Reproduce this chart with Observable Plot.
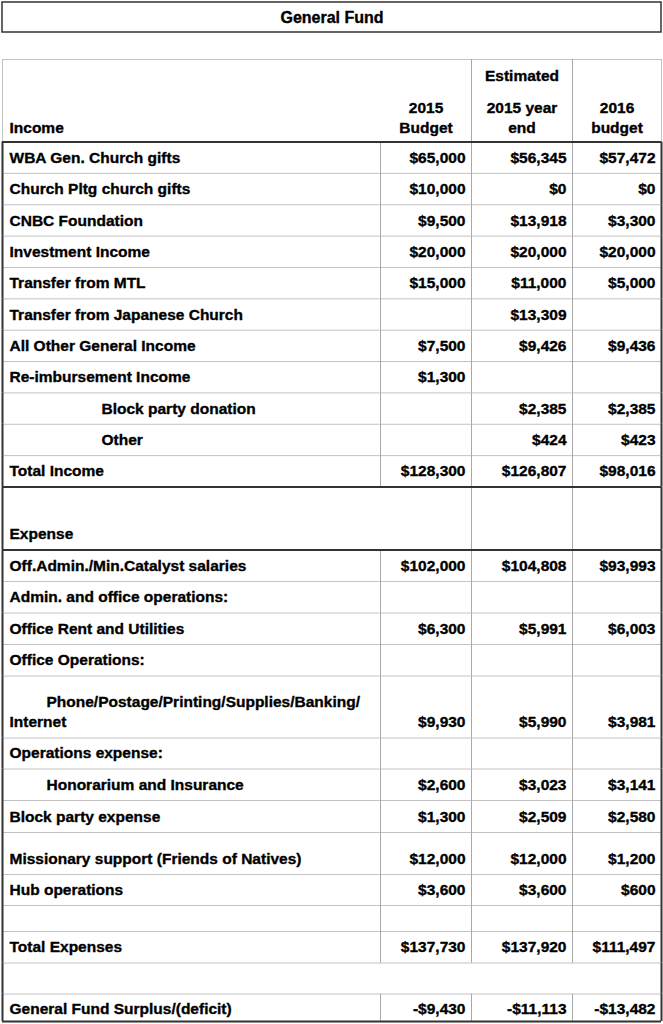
<!DOCTYPE html>
<html>
<head>
<meta charset="utf-8">
<script src="https://cdn.jsdelivr.net/npm/d3@7"></script>
<script src="https://cdn.jsdelivr.net/npm/@observablehq/plot@0.6"></script>
<style>
  html, body { margin: 0; padding: 0; background: #fff; }
  svg { display: block; }
</style>
</head>
<body>
<div id="chart"></div>
<script>
// ---------------- data ----------------
const title = "General Fund";
const sectionTitle = "Income";
const columnHeaders = [["2015", "Budget"], ["Estimated", "2015 year", "end"], ["2016", "budget"]];
const rowLabels = [
  "WBA Gen. Church gifts",
  "Church Pltg church gifts",
  "CNBC Foundation",
  "Investment Income",
  "Transfer from MTL",
  "Transfer from Japanese Church",
  "All Other General Income",
  "Re-imbursement Income",
  "Block party donation",
  "Other",
  "Total Income",
  "Expense",
  "Off.Admin./Min.Catalyst salaries",
  "Admin. and office operations:",
  "Office Rent and Utilities",
  "Office Operations:",
  "Phone/Postage/Printing/Supplies/Banking/\nInternet",
  "Operations expense:",
  "Honorarium and Insurance",
  "Block party expense",
  "Missionary support (Friends of Natives)",
  "Hub operations",
  "",
  "Total Expenses",
  "",
  "General Fund Surplus/(deficit)"
];
const budget2015 = [65000, 10000, 9500, 20000, 15000, null, 7500, 1300, null, null, 128300,
  null, 102000, null, 6300, null, 9930, null, 2600, 1300, 12000, 3600, null, 137730, null, -9430];
const estimate2015 = [56345, 0, 13918, 20000, 11000, 13309, 9426, null, 2385, 424, 126807,
  null, 104808, null, 5991, null, 5990, null, 3023, 2509, 12000, 3600, null, 137920, null, -11113];
const budget2016 = [57472, 0, 3300, 20000, 5000, null, 9436, null, 2385, 423, 98016,
  null, 93993, null, 6003, null, 3981, null, 3141, 2580, 1200, 600, null, 111497, null, -13482];

// ---------------- layout ----------------
const W = 663, H = 1024;
const font = "'Liberation Sans', Arial, Helvetica, sans-serif";
const fs = 15.5;
const titleBox = {x1: 2, x2: 661, y1: 2, y2: 32};
const tableTop = 59, tableLeft = 2, tableRight = 661;
const colEdges = [380, 471, 572, 661];
const n11 = 345 / 11;
const rowHeights = [82.5, n11, n11, n11, n11, n11, n11, n11, n11, n11, n11, n11,
  63, 31.5, 31.5, 31.5, 31.5, 62, 31, 31.5, 32, 42, 31, 26, 31.5, 31, 27.5];
const edges = [tableTop];
rowHeights.forEach(h => edges.push(edges[edges.length - 1] + h));
const indentByRow = {9: 101, 10: 101, 17: 46, 19: 46};
const textFromBottom = {26: 12};
const thickBelow = new Set([0, 11, 12, 26]);
const noFirstColLine = new Set([0, 12, 25]);
const noColLines = new Set([25]);
const headerLineOffsets = [14, 34, 66];
const dark = "#333", lightH = "#c2c2c2", lightV = "#a8a8a8";

// ---------------- derived mark data ----------------
const fmt = d3.format(",");
const money = v => v == null ? "" : (v < 0 ? "-$" + fmt(-v) : "$" + fmt(v));

const texts = [];
texts.push({x: (titleBox.x1 + titleBox.x2) / 2, y: (titleBox.y1 + titleBox.y2) / 2, t: title, a: "middle", s: 16});
const hb = edges[1];
texts.push({x: 9, y: hb - headerLineOffsets[0], t: sectionTitle, a: "start", s: fs});
columnHeaders.forEach((lines, j) => {
  const cx = (colEdges[j] + colEdges[j + 1]) / 2;
  lines.slice().reverse().forEach((ln, k) => texts.push({x: cx, y: hb - headerLineOffsets[k], t: ln, a: "middle", s: fs}));
});
rowLabels.forEach((label, i) => {
  const r = i + 1;
  const bottom = edges[r + 1];
  const yb = bottom - (textFromBottom[r] ?? 15.5);
  const lines = label.split("\n");
  lines.forEach((ln, k) => {
    const x = k === 0 ? (indentByRow[r] ?? 9) : 9;
    texts.push({x, y: yb - (lines.length - 1 - k) * 20, t: ln, a: "start", s: fs});
  });
  [budget2015[i], estimate2015[i], budget2016[i]].forEach((v, j) => {
    if (v != null) texts.push({x: colEdges[j + 1] - 6, y: yb, t: money(v), a: "end", s: fs});
  });
});

const hLines = edges.map((y, i) => {
  const thick = i > 0 && thickBelow.has(i - 1);
  return {y, x1: tableLeft, x2: tableRight, stroke: thick ? dark : lightH, sw: thick ? 2 : 1};
});
const vSegs = [];
for (let r = 0; r < rowHeights.length; r++) {
  const y1 = edges[r], y2 = edges[r + 1];
  colEdges.slice(0, 3).forEach((x, j) => {
    if (noColLines.has(r)) return;
    if (j === 0 && noFirstColLine.has(r)) return;
    vSegs.push({x, y1, y2, stroke: lightV, sw: 1});
  });
  const border = r === 0 ? {stroke: lightH, sw: 1} : {stroke: dark, sw: 2};
  vSegs.push({x: tableLeft, y1, y2, ...border});
  vSegs.push({x: tableRight, y1, y2, ...border});
}

const textOpts = a => ({x: "x", y: "y", text: "t", textAnchor: a, fontWeight: "bold", fontSize: "s",
  fill: "#000", stroke: "#000", strokeWidth: 0.35});

const chart = Plot.plot({
  width: W,
  height: H,
  margin: 0,
  x: {domain: [0, W], range: [0, W], axis: null},
  y: {domain: [0, H], range: [0, H], axis: null},
  style: {background: "#fff", fontFamily: font},
  marks: [
    Plot.rect([titleBox], {x1: "x1", x2: "x2", y1: "y1", y2: "y2", fill: "none", stroke: dark, strokeWidth: 1.5}),
    Plot.ruleY(hLines.filter(d => d.sw === 1), {y: "y", x1: "x1", x2: "x2", stroke: "stroke", strokeWidth: 1}),
    Plot.ruleX(vSegs.filter(d => d.sw === 1), {x: "x", y1: "y1", y2: "y2", stroke: "stroke", strokeWidth: 1}),
    Plot.ruleX(vSegs.filter(d => d.sw === 2), {x: "x", y1: "y1", y2: "y2", stroke: "stroke", strokeWidth: 2}),
    Plot.ruleY(hLines.filter(d => d.sw === 2), {y: "y", x1: "x1", x2: "x2", stroke: "stroke", strokeWidth: 2}),
    Plot.text(texts.filter(d => d.a === "start"), textOpts("start")),
    Plot.text(texts.filter(d => d.a === "middle"), textOpts("middle")),
    Plot.text(texts.filter(d => d.a === "end"), textOpts("end"))
  ]
});
document.getElementById("chart").append(chart);
</script>
</body>
</html>
